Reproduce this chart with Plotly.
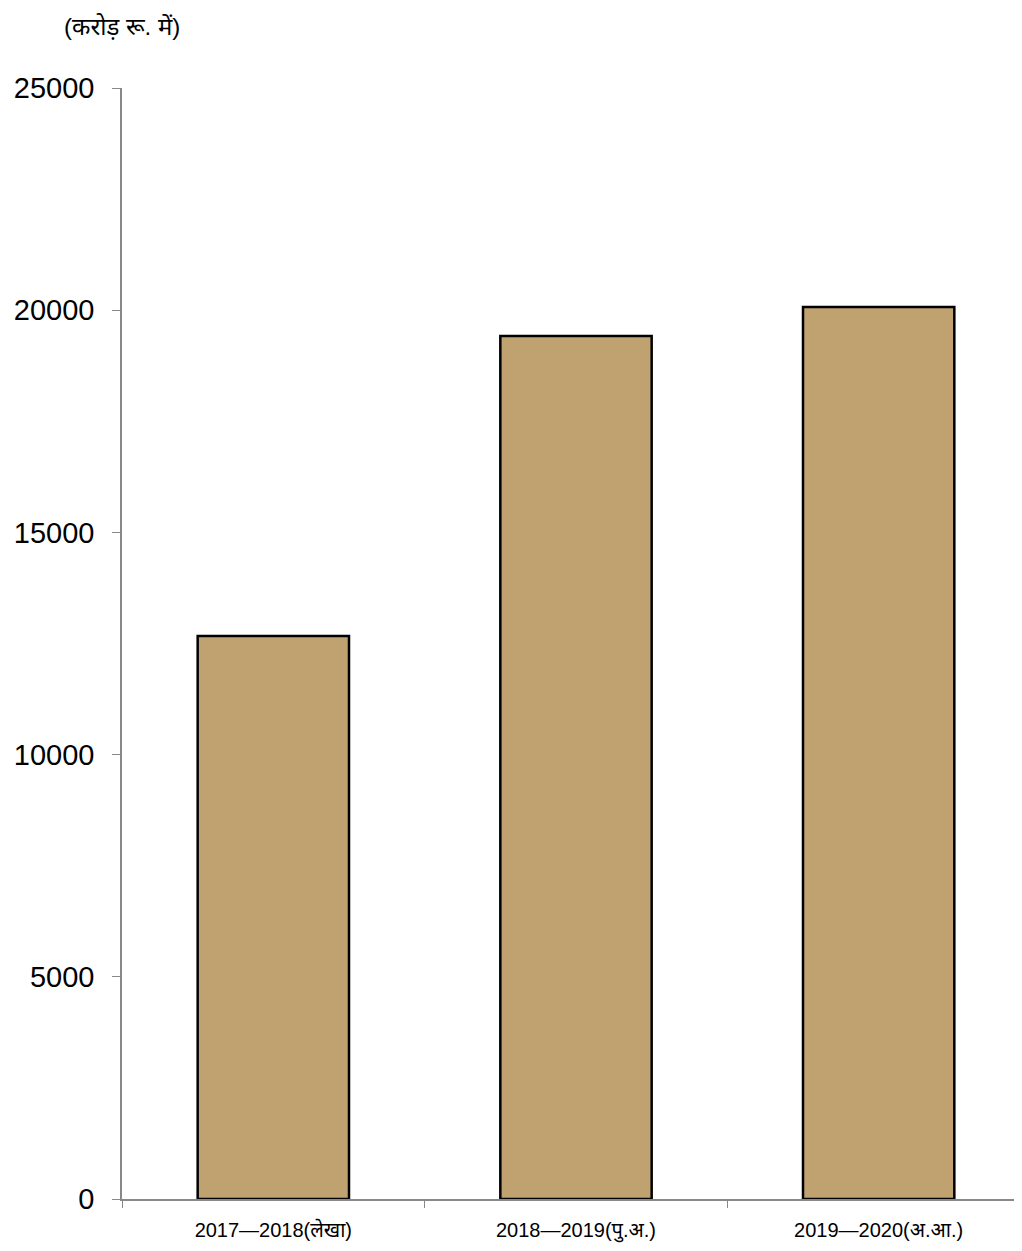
import plotly.graph_objects as go

categories = ["2017—2018(लेखा)", "2018—2019(पु.अ.)", "2019—2020(अ.आ.)"]
values = [12670, 19420, 20070]
y_ticks = [0, 5000, 10000, 15000, 20000, 25000]
unit_label = "(करोड़ रू. में)"

fig = go.Figure()
fig.add_trace(go.Bar(
    x=categories,
    y=values,
    width=0.5,
    marker=dict(color="#C0A270", line=dict(color="#000000", width=2.5)),
))

fig.update_layout(
    width=1022,
    height=1251,
    margin=dict(l=114, r=0, t=80, b=60),
    plot_bgcolor="white",
    paper_bgcolor="white",
    showlegend=False,
    font=dict(family="Liberation Sans, Arial, Noto Sans, sans-serif", color="#000000"),
    xaxis=dict(
        range=[-0.5, 2.5],
        showline=True,
        linecolor="#888888",
        linewidth=1.5,
        ticks="outside",
        tickson="boundaries",
        ticklen=7,
        tickcolor="#888888",
        tickfont=dict(size=20),
        ticklabelstandoff=12,
        showgrid=False,
        zeroline=False,
    ),
    yaxis=dict(
        range=[0, 25000],
        tickvals=y_ticks,
        ticktext=[str(v) for v in y_ticks],
        showline=True,
        linecolor="#888888",
        linewidth=1.5,
        ticks="outside",
        ticklen=8,
        tickcolor="#888888",
        tickfont=dict(size=29),
        ticklabelstandoff=12,
        showgrid=False,
        zeroline=False,
    ),
    annotations=[dict(
        text=unit_label,
        xref="paper", yref="paper",
        x=-0.066, y=1.0, yshift=62,
        xanchor="left", yanchor="middle",
        showarrow=False,
        font=dict(size=24),
    )],
)

fig.write_html("out.html")
